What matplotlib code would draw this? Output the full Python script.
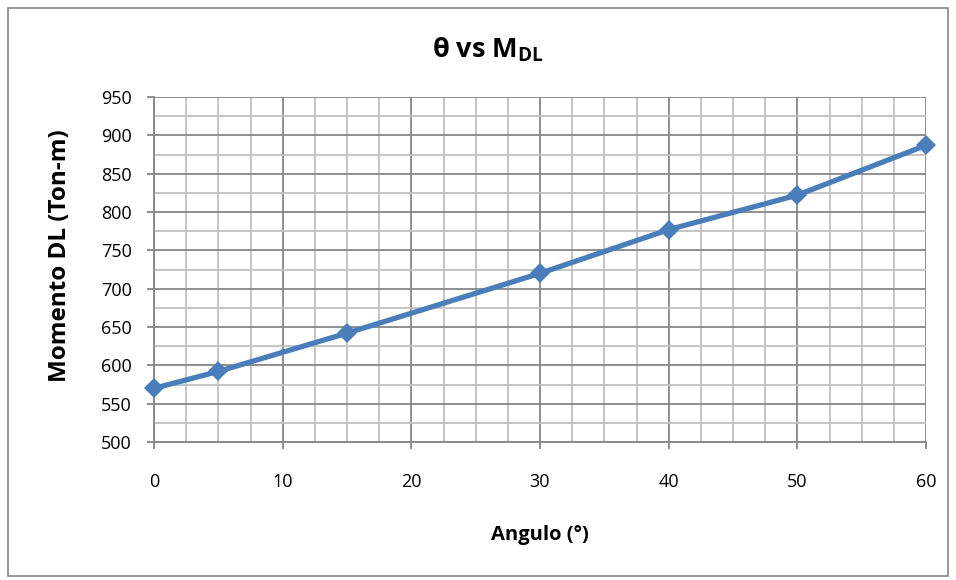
import matplotlib
matplotlib.use("Agg")
import matplotlib.pyplot as plt
from matplotlib.patches import Rectangle
from matplotlib.ticker import MultipleLocator

# Datos
angulo = [0, 5, 15, 30, 40, 50, 60]
momento_dl = [570, 592, 642, 720, 777, 822, 887]

plt.rcParams['font.family'] = ['Open Sans', 'DejaVu Sans']
plt.rcParams['mathtext.fontset'] = 'custom'
plt.rcParams['mathtext.rm'] = 'Open Sans:bold'
plt.rcParams['mathtext.it'] = 'Open Sans:bold'
plt.rcParams['mathtext.bf'] = 'Open Sans:bold'

fig = plt.figure(figsize=(9.56, 5.8), dpi=100)
ax = fig.add_axes([154 / 956, 1 - 442 / 580, (926 - 154) / 956, (442 - 97) / 580])

major_gray = '#868686'
minor_gray = '#C0C0C0'

ax.plot(angulo, momento_dl, color='#4A7EBB', linewidth=3.8,
        marker='D', markersize=10.5, markeredgewidth=0, zorder=5, clip_on=False)

ax.set_xlim(0, 60)
ax.set_ylim(500, 950)
ax.xaxis.set_major_locator(MultipleLocator(10))
ax.xaxis.set_minor_locator(MultipleLocator(2.5))
ax.yaxis.set_major_locator(MultipleLocator(50))
ax.yaxis.set_minor_locator(MultipleLocator(25))

ax.grid(which='minor', color=minor_gray, linewidth=1.3)
ax.grid(which='major', color=major_gray, linewidth=1.3)
ax.set_axisbelow(True)

for side in ['top', 'right']:
    ax.spines[side].set_visible(False)
for side in ['left', 'bottom']:
    ax.spines[side].set_color(major_gray)
    ax.spines[side].set_linewidth(1.3)

ax.tick_params(which='major', length=5, width=1.3, color=major_gray,
               labelsize=13, labelcolor='black')
ax.tick_params(axis='y', pad=11)
ax.tick_params(axis='x', pad=17)
ax.tick_params(which='minor', length=0)

ax.set_xlabel('Angulo (°)', fontsize=14.5, fontweight='bold', labelpad=25)
ax.set_ylabel('Momento DL (Ton-m)', fontsize=17.5, fontweight='bold', va='center')
ax.yaxis.set_label_coords(-0.122, 0.54)

fig.text(488 / 956, 1 - 50 / 580, 'θ vs M$_{DL}$', ha='center', va='center',
         fontsize=19.5, fontweight='bold')

# Borde del area del grafico
fig.patches.append(Rectangle((8 / 956, 4 / 580), 940 / 956, 568 / 580,
                             transform=fig.transFigure, fill=False,
                             edgecolor='#868686', linewidth=1.2))

fig.savefig('out.png', dpi=100, facecolor='white')
